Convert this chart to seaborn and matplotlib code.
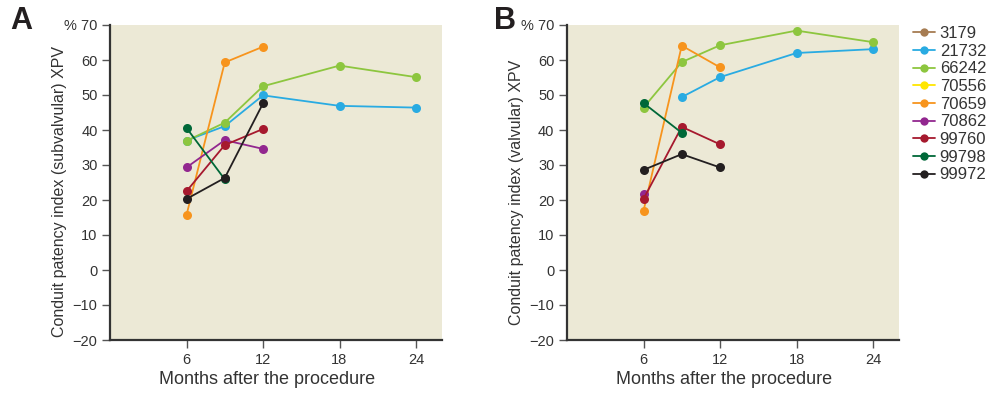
import pandas as pd
import matplotlib.pyplot as plt
from matplotlib.lines import Line2D
import seaborn as sns

# Data
months = [6, 9, 12, 18, 24]
patients = ['3179', '21732', '66242', '70556', '70659', '70862', '99760', '99798', '99972']
colors = ['#a67c52', '#29abe2', '#8dc63f', '#ffe600', '#f7941d', '#92278f', '#a6192e', '#006838', '#231f20']
yticks = [-20, -10, 0, 10, 20, 30, 40, 50, 60, 70]
ytick_labels = ['\u221220', '\u221210', '0', '10', '20', '30', '40', '50', '60', '% 70']

# Panel A: subvalvular XPV (values in order of months)
sub_21732 = [37.0, 41.1, 49.9, 46.9, 46.4]
sub_66242 = [36.9, 42.1, 52.5, 58.4, 55.1]
sub_70659 = [15.7, 59.3, 63.8]
sub_70862 = [29.3, 37.1, 34.6]
sub_99760 = [22.5, 35.7, 40.3]
sub_99798 = [40.6, 25.9]
sub_99972 = [20.3, 26.3, 47.6]

# Panel B: valvular XPV
val_21732_months = [9, 12, 18, 24]
val_21732 = [49.4, 55.1, 62.0, 63.1]
val_66242 = [46.4, 59.4, 64.2, 68.4, 65.1]
val_70659 = [16.9, 64.1, 57.9]
val_70862 = [21.8]
val_99760 = [20.3, 40.9, 35.9]
val_99798 = [47.7, 39.2]
val_99972 = [28.6, 33.1, 29.3]


def to_long(series):
    rows = []
    for pid, (xs, vals) in series.items():
        for m, v in zip(xs, vals):
            rows.append({'patient': pid, 'month': m, 'value': v})
    return pd.DataFrame(rows)


df_a = to_long({
    '21732': (months, sub_21732), '66242': (months, sub_66242),
    '70659': (months, sub_70659), '70862': (months, sub_70862),
    '99760': (months, sub_99760), '99798': (months, sub_99798),
    '99972': (months, sub_99972)})
df_b = to_long({
    '21732': (val_21732_months, val_21732), '66242': (months, val_66242),
    '70659': (months, val_70659), '70862': (months, val_70862),
    '99760': (months, val_99760), '99798': (months, val_99798),
    '99972': (months, val_99972)})

sns.set_style('white')
plt.rcParams['font.family'] = ['Liberation Sans', 'DejaVu Sans']
narrow = ['Liberation Sans Narrow', 'Liberation Sans', 'DejaVu Sans']
palette = dict(zip(patients, colors))
bg = '#ece9d6'

fig = plt.figure(figsize=(9.91, 3.95), dpi=100)
W, H = 991, 395
ax_a = fig.add_axes([110 / W, 1 - 340 / H, 331.5 / W, 315 / H])
ax_b = fig.add_axes([567 / W, 1 - 340 / H, 331.5 / W, 315 / H])

panels = [(ax_a, df_a, 'Conduit patency index (subvalvular) XPV', 'A', 10),
          (ax_b, df_b, 'Conduit patency index (valvular) XPV', 'B', 494)]

for ax, df, ylabel, letter, lx in panels:
    ax.set_facecolor(bg)
    for pid in patients:
        sub = df[df['patient'] == pid]
        if sub.empty:
            continue
        sns.lineplot(data=sub, x='month', y='value', color=palette[pid],
                     marker='o', markersize=6.5, markeredgewidth=0,
                     linewidth=1.3, estimator=None, sort=False, ax=ax)
    ax.set_xlim(0, 26)
    ax.set_ylim(-20, 70)
    ax.set_xticks([6, 12, 18, 24])
    ax.set_yticks(yticks)
    ax.set_yticklabels(ytick_labels)
    for lab in ax.get_xticklabels() + ax.get_yticklabels():
        lab.set_fontfamily(narrow)
        lab.set_fontsize(10.5)
        lab.set_color('#333333')
    ax.tick_params(axis='both', direction='out', length=6, width=1,
                   color='#555555', left=True, bottom=True, pad=3)
    for s in ['top', 'right']:
        ax.spines[s].set_visible(False)
    for s in ['left', 'bottom']:
        ax.spines[s].set_color('#333333')
        ax.spines[s].set_linewidth(1.6)
    ax.set_xlabel('Months after the procedure', fontsize=13, color='#333333')
    ax.set_ylabel(ylabel, fontsize=11.5, color='#333333')
    ax.xaxis.set_label_coords(0.475, -0.1)
    ax.yaxis.set_label_coords(-0.13, 0.47)
    fig.text(lx / W, 1 - 6 / H, letter, fontsize=22, fontweight='bold',
             family=narrow, va='top', ha='left', color='#231f20')

handles = [Line2D([0], [0], color=c, marker='o', markersize=6,
                  markeredgewidth=0, linewidth=1.3) for c in colors]
fig.legend(handles, patients, loc='upper left',
           bbox_to_anchor=(913 / W, 1 - 26 / H), frameon=False,
           fontsize=12, handlelength=1.3, handletextpad=0.3,
           labelspacing=0.16, borderpad=0, borderaxespad=0,
           labelcolor='#333333')

fig.savefig('out.png', dpi=100)
